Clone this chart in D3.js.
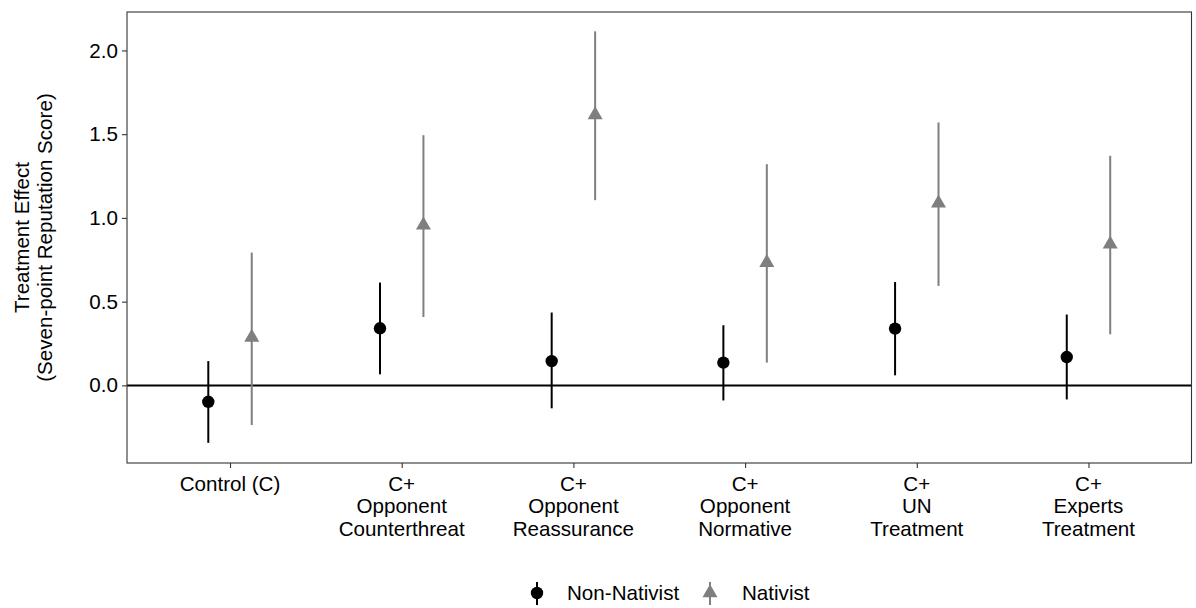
<!DOCTYPE html>
<html>
<head>
<meta charset="utf-8">
<script src="https://cdn.jsdelivr.net/npm/d3@7"></script>
<style>
  html, body { margin: 0; padding: 0; background: #ffffff; }
  svg { display: block; font-family: "Liberation Sans", Arial, sans-serif; }
</style>
</head>
<body>
<svg id="chart" width="1196" height="608"></svg>
<script>
// ---- Data ----
const categories = [
  ["Control (C)"],
  ["C+", "Opponent", "Counterthreat"],
  ["C+", "Opponent", "Reassurance"],
  ["C+", "Opponent", "Normative"],
  ["C+", "UN", "Treatment"],
  ["C+", "Experts", "Treatment"]
];
const seriesNames = ["Non-Nativist", "Nativist"];
const nonNativistEst  = [-0.098, 0.341, 0.145, 0.136, 0.339, 0.169];
const nonNativistLow  = [-0.343, 0.066, -0.137, -0.090, 0.060, -0.084];
const nonNativistHigh = [0.145, 0.614, 0.435, 0.359, 0.617, 0.423];
const nativistEst  = [0.287, 0.956, 1.615, 0.733, 1.088, 0.843];
const nativistLow  = [-0.237, 0.408, 1.106, 0.136, 0.594, 0.305];
const nativistHigh = [0.793, 1.494, 2.114, 1.321, 1.570, 1.371];
const yTicks = [0.0, 0.5, 1.0, 1.5, 2.0];
const yTitle = ["Treatment Effect", "(Seven-point Reputation Score)"];

// ---- Layout ----
const W = 1196, H = 608;
const panel = { left: 127, top: 12, right: 1191.5, bottom: 463 };
const colors = { "Non-Nativist": "#000000", "Nativist": "#7f7f7f" };
const fontSize = 20.6;

const svg = d3.select("#chart");

const catKeys = categories.map(c => c.join(" "));
const x = d3.scalePoint().domain(catKeys).range([panel.left, panel.right]).padding(0.6);
const y = d3.scaleLinear().domain([-0.4635, 2.2295]).range([panel.bottom, panel.top]);

const dodge = x.step() * 0.1265;

// panel background
svg.append("rect")
  .attr("x", panel.left).attr("y", panel.top)
  .attr("width", panel.right - panel.left).attr("height", panel.bottom - panel.top)
  .attr("fill", "#ffffff");

// zero line
svg.append("line")
  .attr("x1", panel.left).attr("x2", panel.right)
  .attr("y1", y(0)).attr("y2", y(0))
  .attr("stroke", "#000").attr("stroke-width", 2);

// data rows
const rows = [];
categories.forEach((c, i) => {
  rows.push({ cat: catKeys[i], series: "Non-Nativist", est: nonNativistEst[i], lo: nonNativistLow[i], hi: nonNativistHigh[i], off: -dodge });
  rows.push({ cat: catKeys[i], series: "Nativist", est: nativistEst[i], lo: nativistLow[i], hi: nativistHigh[i], off: dodge });
});

const g = svg.append("g");
g.selectAll("line.ci").data(rows).join("line")
  .attr("class", "ci")
  .attr("x1", d => x(d.cat) + d.off).attr("x2", d => x(d.cat) + d.off)
  .attr("y1", d => y(d.lo)).attr("y2", d => y(d.hi))
  .attr("stroke", d => colors[d.series]).attr("stroke-width", 2);

const circleSym = d3.symbol().type(d3.symbolCircle).size(Math.PI * 6.2 * 6.2);
function triPath(s) {
  // triangle like ggplot shape 17, centered at centroid
  const h = s * Math.sqrt(3) / 2;
  return `M0,${-2 * h / 3}L${s / 2},${h / 3}L${-s / 2},${h / 3}Z`;
}
g.selectAll("path.pt").data(rows).join("path")
  .attr("class", "pt")
  .attr("d", d => d.series === "Nativist" ? triPath(15) : circleSym())
  .attr("transform", d => `translate(${x(d.cat) + d.off},${y(d.est)})`)
  .attr("fill", d => colors[d.series]);

// panel border
svg.append("rect")
  .attr("x", panel.left).attr("y", panel.top)
  .attr("width", panel.right - panel.left).attr("height", panel.bottom - panel.top)
  .attr("fill", "none").attr("stroke", "#333333").attr("stroke-width", 1.1);

// y axis
const yAxis = d3.axisLeft(y).tickValues(yTicks).tickFormat(d3.format(".1f")).tickSize(5).tickPadding(4);
const ya = svg.append("g").attr("transform", `translate(${panel.left},0)`).call(yAxis);
ya.select(".domain").remove();
ya.selectAll(".tick line").attr("stroke", "#333333").attr("stroke-width", 1.1);
ya.selectAll(".tick text").attr("fill", "#000").style("font-size", fontSize + "px")
  .style("font-family", "'Liberation Sans', Arial, sans-serif");

// x axis
const xAxis = d3.axisBottom(x).tickSize(5).tickFormat(() => "");
const xa = svg.append("g").attr("transform", `translate(0,${panel.bottom})`).call(xAxis);
xa.select(".domain").remove();
xa.selectAll(".tick line").attr("stroke", "#333333").attr("stroke-width", 1.1);
xa.selectAll(".tick text").remove();

// x labels (multi-line)
categories.forEach((lines, i) => {
  const t = svg.append("text")
    .attr("x", x(catKeys[i])).attr("y", 491)
    .attr("text-anchor", "middle")
    .style("font-size", fontSize + "px").attr("fill", "#000");
  lines.forEach((ln, j) => {
    t.append("tspan").attr("x", x(catKeys[i])).attr("y", 491 + j * 22.3).text(ln);
  });
});

// y title
const cy = (panel.top + panel.bottom) / 2;
yTitle.forEach((ln, j) => {
  svg.append("text")
    .attr("transform", `translate(${29 + j * 23},${cy}) rotate(-90)`)
    .attr("text-anchor", "middle")
    .style("font-size", fontSize + "px").attr("fill", "#000")
    .text(ln);
});

// legend
const legY = 593;
const legItems = [
  { name: "Non-Nativist", kx: 537, tx: 567 },
  { name: "Nativist", kx: 710, tx: 742 }
];
legItems.forEach(it => {
  svg.append("line")
    .attr("x1", it.kx).attr("x2", it.kx)
    .attr("y1", legY - 11).attr("y2", legY + 12)
    .attr("stroke", colors[it.name]).attr("stroke-width", 2);
  svg.append("path")
    .attr("d", it.name === "Nativist" ? triPath(15) : circleSym())
    .attr("transform", `translate(${it.kx},${legY})`)
    .attr("fill", colors[it.name]);
  svg.append("text")
    .attr("x", it.tx).attr("y", legY + 7)
    .style("font-size", fontSize + "px").attr("fill", "#000")
    .text(it.name);
});
</script>
</body>
</html>
